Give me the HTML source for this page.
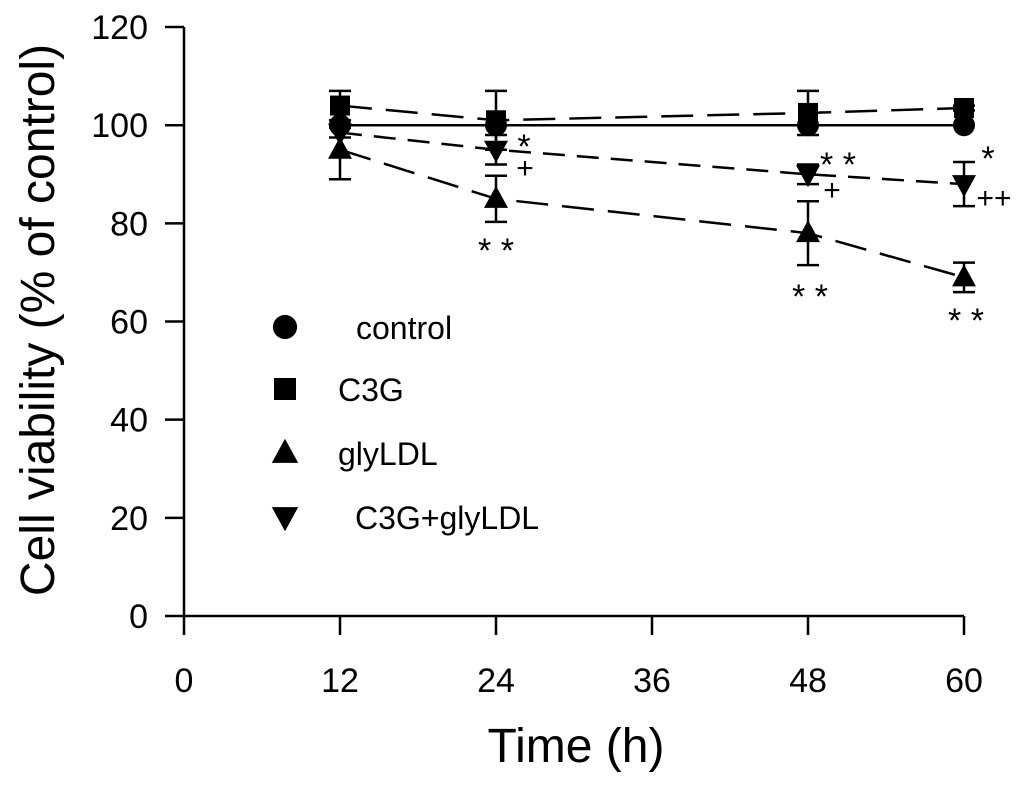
<!DOCTYPE html>
<html><head><meta charset="utf-8"><style>
body{margin:0;background:#fff;}
svg text{font-family:"Liberation Sans",Arial,sans-serif;fill:#000;}
</style></head><body>
<svg id="chart" width="1024" height="790" viewBox="0 0 1024 790">
<g id="axes"></g><g id="series"></g><g id="legend"></g>
<text x="576" y="762" font-size="48" text-anchor="middle">Time (h)</text>
<text transform="translate(54,320) rotate(-90)" font-size="48" text-anchor="middle">Cell viability (% of control)</text>
</svg>
<script>
const times=[12,24,48,60];
const xTicks=[0,12,24,36,48,60];
const yTicks=[0,20,40,60,80,100,120];
const controlVals=[100,100,100,100];
const controlErr=[0,0,0,0];
const c3gVals=[104,101,102.5,103.5];
const c3gErr=[3,6,4.5,0.5];
const glyVals=[95,85,78,69];
const glyErr=[6,4.7,6.5,3];
const comboVals=[98.5,95,90,88];
const comboErr=[1,3,2,4.5];
const seriesNames=["control","C3G","glyLDL","C3G+glyLDL"];
const NS="http://www.w3.org/2000/svg";
const X=v=>184+v*13;
const Y=v=>616-v*4.908;
function mk(tag,attrs,parent){const e=document.createElementNS(NS,tag);for(const k in attrs)e.setAttribute(k,attrs[k]);parent.appendChild(e);return e;}
const axes=document.getElementById('axes');
let e=mk('line',{x1:184,y1:Y(0),x2:184,y2:Y(120),stroke:'#000','stroke-width':2.5},axes);

e=mk('line',{x1:184,y1:Y(0),x2:964,y2:Y(0),stroke:'#000','stroke-width':2.5},axes);

yTicks.forEach(t=>{mk('line',{x1:165,x2:184,y1:Y(t),y2:Y(t),stroke:'#000','stroke-width':2.5},axes);
const tx=mk('text',{x:148,y:Y(t)+12,'font-size':34,'text-anchor':'end'},axes);tx.textContent=t;
});
xTicks.forEach(t=>{mk('line',{x1:X(t),x2:X(t),y1:Y(0),y2:Y(0)+19,stroke:'#000','stroke-width':2.5},axes);
const tx=mk('text',{x:X(t),y:692,'font-size':34,'text-anchor':'middle'},axes);tx.textContent=t;
});
const sg=document.getElementById('series');
function marker(type,cx,cy,p,s){s=s||1;
 if(type==='circle')return mk('circle',{cx,cy,r:11*s,fill:'#000'},p);
 if(type==='square')return mk('rect',{x:cx-10*s,y:cy-10*s,width:20*s,height:20*s,fill:'#000'},p);
 if(type==='up')return mk('polygon',{points:`${cx},${cy-13*s} ${cx-12*s},${cy+9*s} ${cx+12*s},${cy+9*s}`,fill:'#000'},p);
 return mk('polygon',{points:`${cx},${cy+13*s} ${cx-12*s},${cy-9*s} ${cx+12*s},${cy-9*s}`,fill:'#000'},p);}
const defs=[[controlVals,controlErr,'circle','none','control'],[c3gVals,c3gErr,'square','32 14','c3g'],[glyVals,glyErr,'up','32 14','glyldl'],[comboVals,comboErr,'down','22 12','c3g-glyldl']];
defs.forEach(([v,er,m,dash,nm])=>{const g=mk('g',{},sg);
 const pl=mk('polyline',{points:times.map((t,i)=>X(t)+','+Y(v[i])).join(' '),fill:'none',stroke:'#000','stroke-width':2.5},g);
 if(dash!=='none')pl.setAttribute('stroke-dasharray',dash);
 times.forEach((t,i)=>{if(er[i]>0){mk('line',{x1:X(t),x2:X(t),y1:Y(v[i]-er[i]),y2:Y(v[i]+er[i]),stroke:'#000','stroke-width':2.5},g);
 [v[i]-er[i],v[i]+er[i]].forEach(q=>mk('line',{x1:X(t)-11,x2:X(t)+11,y1:Y(q),y2:Y(q),stroke:'#000','stroke-width':2.5},g));}
 const mm=marker(m,X(t),Y(v[i]),g);});});
const ann=[[524,158,'*'],[525,178,'+'],[838,176,'* *'],[832,200,'+'],[988,170,'*'],[994,208,'++'],[496,262,'* *'],[810,308,'* *'],[966,332,'* *']];
ann.forEach(a=>{const t=mk('text',{x:a[0],y:a[1],'font-size':a[2]==='*'||a[2]==='* *'?34:30,'text-anchor':'middle'},sg);t.textContent=a[2];
});
const lg=document.getElementById('legend');
['circle','square','up','down'].forEach((m,i)=>{const y=[327,389,453,517][i];
 const g=mk('g',{},lg);
 marker(m,285,y,g,1.1);const t=mk('text',{x:[356,338,338,355][i],y:y+12,'font-size':32},g);t.textContent=seriesNames[i];});
</script>
</body></html>
